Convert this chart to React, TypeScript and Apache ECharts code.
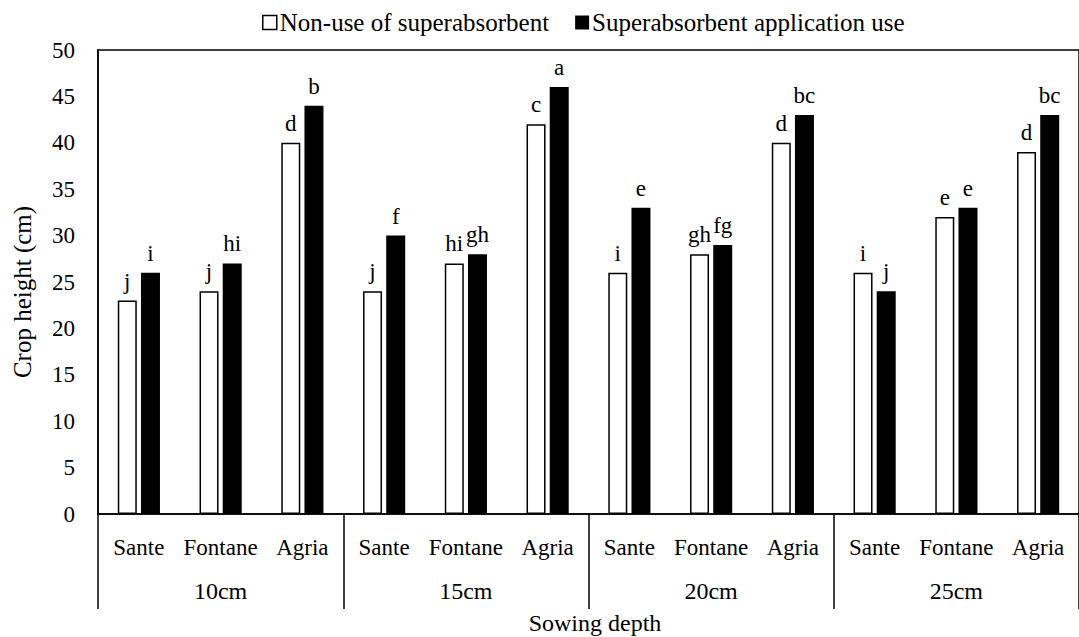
import React, { useEffect, useRef } from "react";
import * as echarts from "echarts";

const depths = ["10cm", "15cm", "20cm", "25cm"];
const varieties = ["Sante", "Fontane", "Agria"];
const categoryKeys = depths.flatMap((d) => varieties.map((v) => `${d}|${v}`));
const nonUse = [23, 24, 40, 24, 27, 42, 26, 28, 40, 26, 32, 39];
const withSA = [26, 27, 44, 30, 28, 46, 33, 29, 43, 24, 33, 43];
const nonUseLetters = ["j", "j", "d", "j", "hi", "c", "i", "gh", "d", "i", "e", "d"];
const withSALetters = ["i", "hi", "b", "f", "gh", "a", "e", "fg", "bc", "j", "e", "bc"];
const seriesNames = ["Non-use of superabsorbent", "Superabsorbent application use"];

const FONT = "Liberation Serif";

export default function App() {
  const ref = useRef<HTMLDivElement>(null);
  useEffect(() => {
    if (!ref.current) return;
    const chart = echarts.init(ref.current, null, { renderer: "svg" });
    const txt = (fs: number) => ({ fontFamily: FONT, fontSize: fs, color: "#000" });
    chart.setOption({
      animation: false,
      backgroundColor: "#fff",
      textStyle: { fontFamily: FONT },
      grid: {
        left: 98,
        top: 50,
        width: 992,
        height: 464,
        show: true,
        borderColor: "#000",
        borderWidth: 1.5,
      },
      legend: {
        top: 5,
        left: 257,
        icon: "rect",
        itemWidth: 14,
        itemHeight: 14,
        itemGap: 26,
        textStyle: { ...txt(25), padding: [0, 0, 0, -2] },
        data: [
          { name: seriesNames[0], itemStyle: { color: "#fff", borderColor: "#000", borderWidth: 1.5 } },
          { name: seriesNames[1], itemStyle: { color: "#000" } },
        ],
      },
      xAxis: [
        {
          type: "category",
          data: categoryKeys,
          position: "bottom",
          axisLine: { show: true, lineStyle: { color: "#000", width: 1.5 } },
          axisTick: { show: false },
          axisLabel: {
            ...txt(23),
            interval: 0,
            margin: 22,
            formatter: (v: string) => v.split("|")[1],
          },
          splitLine: { show: false },
        },
        {
          type: "category",
          data: depths,
          position: "bottom",
          axisLine: { show: false },
          axisTick: { show: true, interval: 0, length: 95, lineStyle: { color: "#000", width: 1.5 } },
          axisLabel: { ...txt(24), interval: 0, margin: 65 },
          splitLine: { show: false },
        },
      ],
      yAxis: {
        type: "value",
        min: 0,
        max: 50,
        interval: 5,
        axisLine: { show: true, lineStyle: { color: "#000", width: 1.5 } },
        axisTick: { show: false },
        axisLabel: { ...txt(23), margin: 23 },
        splitLine: { show: false },
      },
      graphic: [
        {
          type: "text",
          x: 595,
          y: 623,
          style: {
            text: "Sowing depth",
            fontFamily: FONT,
            fontSize: 24,
            fill: "#000",
            align: "center",
            verticalAlign: "middle",
          },
        },
        {
          type: "text",
          x: 22,
          y: 292,
          rotation: Math.PI / 2,
          style: {
            text: "Crop height (cm)",
            fontFamily: FONT,
            fontSize: 25,
            fill: "#000",
            align: "center",
            verticalAlign: "middle",
          },
        },
      ],
      series: [
        {
          type: "bar",
          name: seriesNames[0],
          xAxisIndex: 0,
          data: nonUse,
          barWidth: 19,
          barGap: "22%",
          itemStyle: { color: "#fff", borderColor: "#000", borderWidth: 1.5 },
          label: {
            show: true,
            position: "top",
            distance: 8,
            ...txt(23),
            formatter: (p: any) => nonUseLetters[p.dataIndex],
          },
        },
        {
          type: "bar",
          name: seriesNames[1],
          xAxisIndex: 0,
          data: withSA,
          barWidth: 19,
          barGap: "22%",
          itemStyle: { color: "#000" },
          label: {
            show: true,
            position: "top",
            distance: 8,
            ...txt(23),
            formatter: (p: any) => withSALetters[p.dataIndex],
          },
        },
      ],
    });
    return () => chart.dispose();
  }, []);
  return (
    <div
      ref={ref}
      style={{ position: "absolute", left: 0, top: 0, width: 1079, height: 637 }}
    />
  );
}
